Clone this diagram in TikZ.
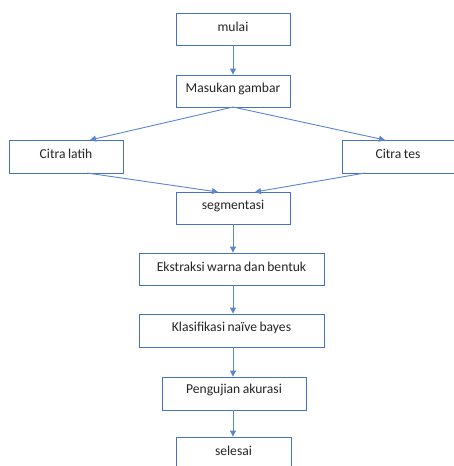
\documentclass[tikz,border=0pt]{standalone}
\usepackage{fontspec}
\setmainfont{Carlito}
\usetikzlibrary{arrows.meta}
\definecolor{boxblue}{HTML}{4472C4}
\definecolor{linkblue}{HTML}{5B86D0}
\definecolor{txt}{HTML}{262626}
\newcommand{\lblfont}{\fontsize{13.6}{15}\selectfont\spaceskip=0.18em plus 0.05em\relax}
\begin{document}
\begin{tikzpicture}[x=1pt,y=-1pt,
  stepbox/.style={draw=boxblue,line width=0.9pt,fill=white},
  lbl/.style={text=txt,inner sep=0pt,font=\lblfont},
  link/.style={draw=linkblue,line width=0.9pt,-{Triangle[length=6pt,width=6pt]}}]
\useasboundingbox[fill=white] (0,0) rectangle (454,466);
\node[stepbox,minimum width=114pt,minimum height=32pt] (mulai) at (233,29) {};
\node[lbl] (tmulai) at (233,27) {mulai};
\node[stepbox,minimum width=114pt,minimum height=32pt] (masuk) at (233,91) {};
\node[lbl] (tmasuk) at (233,89) {Masukan gambar};
\node[stepbox,minimum width=114pt,minimum height=33pt] (latih) at (66,156.5) {};
\node[lbl] (tlatih) at (66,154) {Citra latih};
\node[stepbox,minimum width=118pt,minimum height=33pt] (tes) at (401,156.5) {};
\node[lbl] (ttes) at (398,154) {Citra tes};
\node[stepbox,minimum width=114pt,minimum height=32pt] (seg) at (233,208) {};
\node[lbl] (tseg) at (233,206) {segmentasi};
\node[stepbox,minimum width=185pt,minimum height=32pt] (ekst) at (231.5,269) {};
\node[lbl] (tekst) at (231.5,267) {Ekstraksi warna dan bentuk};
\node[stepbox,minimum width=185pt,minimum height=33pt] (klas) at (231.5,330.5) {};
\node[lbl] (tklas) at (231.5,328) {Klasifikasi naïve bayes};
\node[stepbox,minimum width=144pt,minimum height=33pt] (uji) at (234,393.5) {};
\node[lbl] (tuji) at (234,390) {Pengujian akurasi};
\node[stepbox,minimum width=115pt,minimum height=40pt] (selesai) at (233.5,457) {};
\node[lbl] (tselesai) at (233.5,451) {selesai};
\coordinate (mb) at (233,107);
\coordinate (lt) at (90,140);
\coordinate (tt) at (385,140);
\coordinate (lb) at (87,173);
\coordinate (tb) at (365,173);
\coordinate (sl) at (218,192);
\coordinate (sr) at (255,192);
\coordinate (ax) at (233,0);
\draw[link] (ax |- mulai.south) -- (ax |- masuk.north);
\draw[link] (mb) -- (lt);
\draw[link] (mb) -- (tt);
\draw[link] (lb) -- (sl);
\draw[link] (tb) -- (sr);
\draw[link] (ax |- seg.south) -- (ax |- ekst.north);
\draw[link] (ax |- ekst.south) -- (ax |- klas.north);
\draw[link] (ax |- klas.south) -- (ax |- uji.north);
\draw[link] (ax |- uji.south) -- (ax |- selesai.north);
\end{tikzpicture}
\end{document}
